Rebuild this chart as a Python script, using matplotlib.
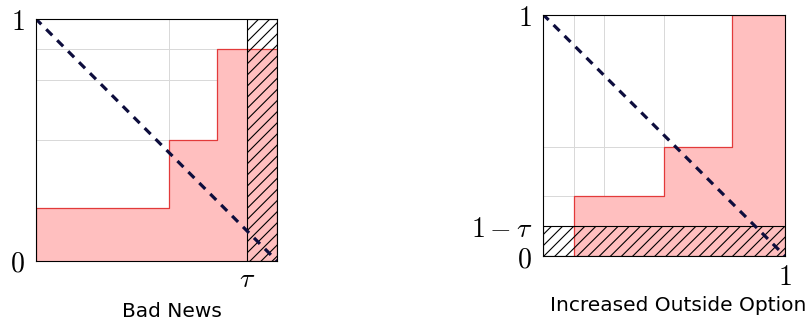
import matplotlib
matplotlib.use("Agg")
import matplotlib.pyplot as plt
from matplotlib.patches import Rectangle

plt.rcParams["mathtext.fontset"] = "cm"
plt.rcParams["hatch.linewidth"] = 0.8

# Du lieu
tau = 0.875

# Bad News
left_edges = [0.0, 0.55, 0.75, 1.0]
left_heights = [0.22, 0.5, 0.875]
left_grid_x = [0.55]
left_grid_y = [0.5, 0.75, 0.875]

# Increased Outside Option
right_edges = [0.125, 0.5, 0.78, 1.0]
right_heights = [0.25, 0.45, 1.0]
right_grid_x = [0.125, 0.25, 0.5, 0.78]
right_grid_y = [0.25, 0.45]

fill_color = "#ffbfbf"
edge_color = "#e23a3a"
dash_color = "#0d0d3d"

fig = plt.figure(figsize=(8.09, 3.24), dpi=100)
ax1 = fig.add_axes([36 / 809, 63 / 324, 241 / 809, 242 / 324])
ax2 = fig.add_axes([543.3 / 809, 68 / 324, 241.7 / 809, 241.3 / 324])


def step_fill(ax, edges, heights):
    xs = []
    ys = []
    for i, h in enumerate(heights):
        xs += [edges[i], edges[i + 1]]
        ys += [h, h]
    ax.fill_between(xs, 0, ys, color=fill_color, lw=0, zorder=1)
    # duong vien do
    px = [edges[0]]
    py = [0]
    for i, h in enumerate(heights):
        px += [edges[i], edges[i + 1]]
        py += [h, h]
    ax.plot(px, py, color=edge_color, lw=0.9, zorder=2)


def setup(ax, grid_x, grid_y):
    ax.set_xlim(0, 1)
    ax.set_ylim(0, 1)
    for gx in grid_x:
        ax.axvline(gx, color="#d8d8d8", lw=0.7, zorder=0)
    for gy in grid_y:
        ax.axhline(gy, color="#d8d8d8", lw=0.7, zorder=0)
    for s in ax.spines.values():
        s.set_linewidth(0.8)
        s.set_zorder(5)
    ax.tick_params(length=0, labelsize=20, pad=8)
    ax.plot([0, 1], [1, 0], color=dash_color, lw=2.3,
            linestyle=(0.3, (2.65, 2.2)), zorder=4)


# ==========================================
# 1. Bad News
# ==========================================
setup(ax1, left_grid_x, left_grid_y)
step_fill(ax1, left_edges, left_heights)
ax1.add_patch(Rectangle((tau, 0), 1 - tau, 1, fill=False, hatch="///",
                        edgecolor="black", lw=0.8, zorder=3))
ax1.set_xticks([tau])
ax1.set_xticklabels([r"$\tau$"])
ax1.tick_params(axis="x", pad=3)
ax1.set_yticks([0, 1])
ax1.set_yticklabels([r"$0$", r"$1$"])
ax1.text(0.564, -0.17, "Bad News", transform=ax1.transAxes,
         ha="center", va="top", fontsize=14.5)

# ==========================================
# 2. Increased Outside Option
# ==========================================
setup(ax2, right_grid_x, right_grid_y)
step_fill(ax2, right_edges, right_heights)
ax2.add_patch(Rectangle((0, 0), 1, 1 - tau, fill=False, hatch="///",
                        edgecolor="black", lw=0.8, zorder=3))
ax2.set_xticks([1])
ax2.set_xticklabels([r"$1$"])
ax2.tick_params(axis="x", pad=5)
ax2.set_yticks([0, 1 - tau, 1])
ax2.set_yticklabels([r"$0$", r"$1-\tau$", r"$1$"])
ax2.text(0.557, -0.165, "Increased Outside Option", transform=ax2.transAxes,
         ha="center", va="top", fontsize=14.5)

fig.savefig("out.png", dpi=100)
plt.close()
